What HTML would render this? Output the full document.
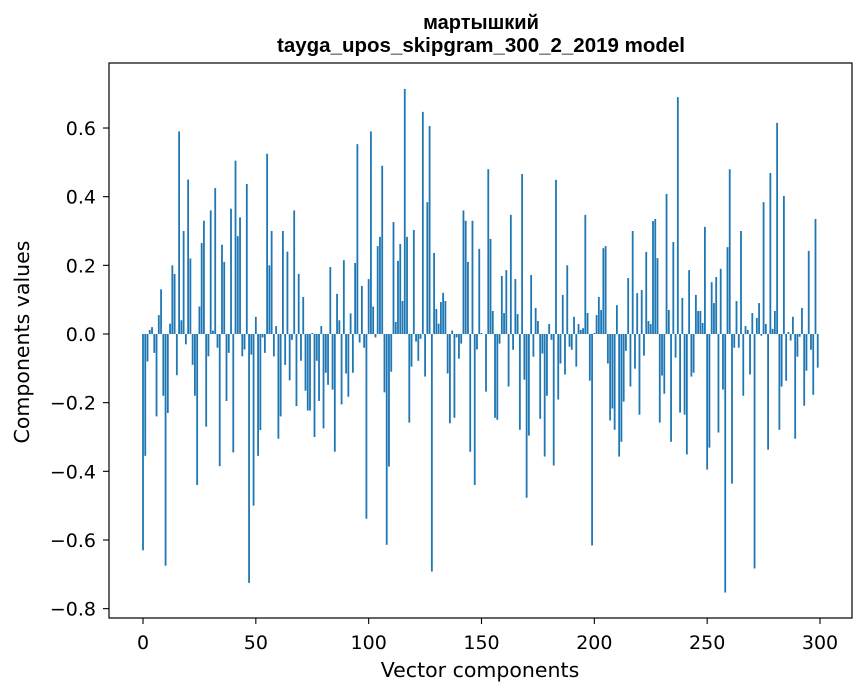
<!DOCTYPE html>
<html><head><meta charset="utf-8"><style>
html,body{margin:0;padding:0;background:#fff;}
svg{display:block;font-family:"DejaVu Sans","Liberation Sans",sans-serif;}
</style></head><body>
<svg id="chart" width="867" height="696" viewBox="0 0 867 696" xmlns="http://www.w3.org/2000/svg">
<rect x="0" y="0" width="867" height="696" fill="#fff"/>
<text x="481" y="29" text-anchor="middle" font-size="20" font-weight="bold" font-family="Liberation Sans, sans-serif">мартышкий</text>
<text x="481" y="52" text-anchor="middle" font-size="20.5" font-weight="bold" font-family="Liberation Sans, sans-serif">tayga_upos_skipgram_300_2_2019 model</text>
<g id="bars"></g>
<g id="xticks"></g>
<g id="yticks"></g>
<rect x="109" y="63" width="743" height="555" fill="none" stroke="#000" stroke-width="1.2"/>
<text x="480" y="677" text-anchor="middle" font-size="20.5">Vector components</text>
<text transform="translate(29,342) rotate(-90)" text-anchor="middle" font-size="20.5">Components values</text>
</svg>
<script>
const values = [
-0.63,-0.355,-0.08,0.012,0.02,-0.055,-0.24,0.055,0.13,-0.18,
-0.675,-0.23,0.03,0.2,0.175,-0.12,0.59,0.04,0.3,-0.03,
0.45,0.22,-0.09,-0.18,-0.44,0.08,0.265,0.33,-0.27,-0.065,
0.36,0.01,0.425,-0.04,-0.385,0.26,0.21,-0.195,-0.055,0.365,
-0.345,0.505,0.285,0.34,-0.065,-0.045,0.437,-0.725,-0.06,-0.5,
0.05,-0.355,-0.28,-0.01,-0.055,0.525,0.2,0.3,-0.065,0.023,
-0.305,-0.24,0.3,-0.09,0.24,-0.135,-0.017,0.36,-0.21,0.175,
-0.078,0.108,-0.165,-0.223,-0.223,0.003,-0.3,-0.078,-0.195,0.023,
-0.275,-0.113,-0.148,0.195,-0.162,-0.343,0.117,0.04,-0.205,0.215,
-0.115,-0.183,0.06,-0.113,0.207,0.553,-0.025,0.14,-0.04,-0.538,
0.16,0.59,0.08,-0.01,0.256,0.283,0.49,-0.17,-0.614,-0.386,
-0.11,0.326,0.035,0.213,0.262,0.096,0.714,0.283,-0.258,-0.095,
0.303,-0.022,-0.078,-0.014,0.647,-0.124,0.384,0.606,-0.692,0.236,
0.073,0.03,0.093,0.12,0.096,-0.115,-0.26,0.01,-0.244,-0.01,
-0.072,-0.028,0.36,0.33,0.21,-0.343,0.33,-0.44,-0.045,0.248,
0.003,0.0,-0.168,0.48,0.277,0.067,-0.244,-0.25,-0.028,0.169,
0.061,0.186,-0.153,0.347,-0.046,0.16,0.058,-0.279,0.466,-0.133,
-0.477,-0.296,0.172,-0.066,0.076,0.038,-0.247,-0.057,-0.357,-0.18,
0.029,-0.017,-0.383,0.449,-0.191,-0.086,0.114,-0.118,0.2,-0.037,
-0.046,0.05,-0.095,0.029,0.012,0.017,0.347,0.061,-0.136,-0.616,
0.003,0.055,0.108,0.07,0.25,0.256,-0.086,-0.252,-0.217,-0.279,
0.084,-0.357,-0.314,-0.197,-0.049,0.163,-0.153,0.3,-0.101,0.119,
-0.235,0.128,-0.063,0.239,0.038,0.029,0.329,0.335,0.221,-0.258,
-0.121,-0.174,0.408,0.07,-0.314,0.268,-0.069,0.69,-0.229,0.105,
-0.235,-0.351,0.186,-0.124,-0.113,0.114,0.067,0.067,0.032,0.312,
-0.395,-0.331,0.151,0.09,0.166,-0.287,0.19,-0.162,-0.753,0.253,
0.48,-0.436,-0.04,0.096,-0.04,0.3,-0.18,0.023,0.012,-0.118,
0.061,-0.683,0.047,0.09,-0.005,0.384,0.029,-0.337,0.469,0.015,
0.067,0.615,-0.279,-0.153,0.402,-0.136,0.006,-0.019,0.05,-0.305,
-0.066,-0.008,0.076,-0.209,-0.107,0.242,-0.046,-0.177,0.335,-0.098
];
const xTicks = [0,50,100,150,200,250,300];
const yTicks = [-0.8,-0.6,-0.4,-0.2,0.0,0.2,0.4,0.6];
const yTickLabels = ["\u22120.8","\u22120.6","\u22120.4","\u22120.2","0.0","0.2","0.4","0.6"];

const NS = "http://www.w3.org/2000/svg";
function xScale(i){ return 143 + i * (677/300); }
function yScale(v){ return 334 - v * 343.3; }
const barW = 0.8 * 677/300;
const gb = document.getElementById('bars');
values.forEach((v,i)=>{
  const r = document.createElementNS(NS,'rect');
  const y0 = yScale(0), y1 = yScale(v);
  r.setAttribute('x', xScale(i) - barW/2);
  r.setAttribute('y', Math.min(y0,y1));
  r.setAttribute('width', barW);
  r.setAttribute('height', Math.max(Math.abs(y1-y0),0.01));
  r.setAttribute('fill', '#1f77b4');
  
  
  gb.appendChild(r);
});
const gx = document.getElementById('xticks');
xTicks.forEach(t=>{
  const x = xScale(t);
  const l = document.createElementNS(NS,'line');
  l.setAttribute('x1',x); l.setAttribute('x2',x); l.setAttribute('y1',618); l.setAttribute('y2',624);
  l.setAttribute('stroke','#000'); l.setAttribute('stroke-width','1.1');
  
  
  gx.appendChild(l);
  const tx = document.createElementNS(NS,'text');
  tx.setAttribute('x',x); tx.setAttribute('y',649); tx.setAttribute('text-anchor','middle'); tx.setAttribute('font-size','19');
  tx.textContent = t;
  
  
  gx.appendChild(tx);
});
const gy = document.getElementById('yticks');
yTicks.forEach((t,k)=>{
  const y = yScale(t);
  const l = document.createElementNS(NS,'line');
  l.setAttribute('x1',103); l.setAttribute('x2',109); l.setAttribute('y1',y); l.setAttribute('y2',y);
  l.setAttribute('stroke','#000'); l.setAttribute('stroke-width','1.1');
  
  
  gy.appendChild(l);
  const tx = document.createElementNS(NS,'text');
  tx.setAttribute('x',96); tx.setAttribute('y',y+7); tx.setAttribute('text-anchor','end'); tx.setAttribute('font-size','19');
  tx.textContent = yTickLabels[k];
  
  
  gy.appendChild(tx);
});
</script>
</body></html>
